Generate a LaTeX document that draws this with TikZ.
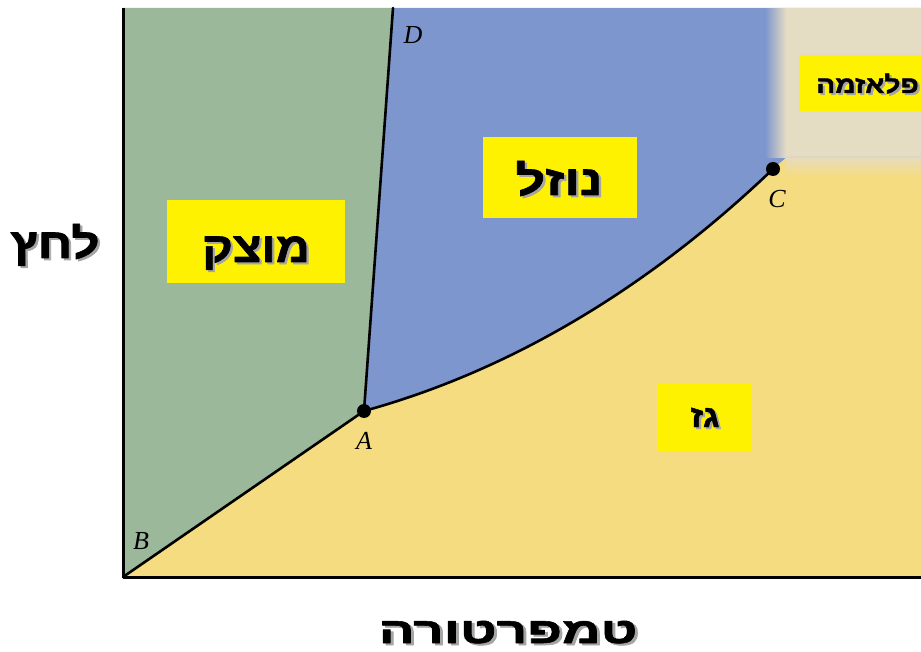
\documentclass[tikz,border=0pt]{standalone}
\usepackage{graphicx}
\usepackage{fontspec}
\setmainfont{Liberation Serif}
\newfontfamily\hebfont[Script=Hebrew, BoldFeatures={FakeBold=1.5}]{Liberation Sans}
\TeXXeTstate=1
\usetikzlibrary{fadings}
\definecolor{solidgreen}{RGB}{155,184,155}
\definecolor{liquidblue}{RGB}{126,150,206}
\definecolor{gasyellow}{RGB}{246,220,128}
\definecolor{plasmabeige}{RGB}{229,220,196}
\definecolor{shadowgray}{RGB}{165,165,165}
\tikzfading[name=fadeleft, left color=transparent!100, right color=transparent!0]
\tikzfading[name=fadedown, top color=transparent!0, bottom color=transparent!100]
% Hebrew word with a grey drop shadow, widened by #1
\newcommand\shadowed[2][1]{\scalebox{#1}[1]{\rlap{\hspace{2pt}\raisebox{-2pt}{\textcolor{shadowgray}{\beginR#2\endR}}}\beginR#2\endR}}
\begin{document}
\begin{tikzpicture}[x=1pt, y=-1pt, line join=round, line cap=round,
  phasebox/.style={fill=yellow, inner sep=0pt},
  phasename/.style={font=\hebfont\bfseries\fontsize{#1}{#1}\selectfont, inner sep=0pt, anchor=base},
  dot/.style={circle, fill=black, inner sep=0pt, minimum size=14pt},
  ptname/.style={font=\itshape\fontsize{26}{26}\selectfont, inner sep=0pt},
  curve/.style={line width=2.6pt}]
\def \xmin{123}
\def \xmax{921}
\def \ymin{577}
\def \ymax{8}
\useasboundingbox (0,0) rectangle (921,652);
\clip (0,0) rectangle (921,652);
\coordinate (A) at (364,411);
\coordinate (B) at (\xmin,\ymin);
\coordinate (C) at (773,169);
\coordinate (D) at (393,\ymax);
\coordinate (P1) at (520,368);
\coordinate (P2) at (657,280);
% phase regions
\fill[solidgreen] (\xmin,\ymax) -- (D) -- (A) -- (B) -- cycle;
\fill[liquidblue] (D) -- (\xmax,\ymax) -- (\xmax,158) -- (786,158) -- (C) .. controls (P2) and (P1) .. (A) -- cycle;
\fill[gasyellow] (B) -- (A) .. controls (P1) and (P2) .. (C) -- (786,158) -- (\xmax,158) -- (\xmax,\ymin) -- cycle;
\fill[plasmabeige] (786,\ymax) rectangle (\xmax,155);
\fill[plasmabeige, path fading=fadeleft] (765,\ymax) rectangle (786,158);
\fill[plasmabeige, path fading=fadedown] (786,155) rectangle (\xmax,177);
% boundaries
\draw[curve] (B) -- (A);
\draw[curve] (A) -- (D);
\draw[curve] (A) .. controls (P1) and (P2) .. (C);
\draw[line width=3pt, line cap=butt] (\xmin,\ymax) -- (B) -- (\xmax,\ymin);
\node[dot] (a) at (A) {};
\node[dot] (c) at (C) {};
\node[ptname] at (364,441) {A};
\node[ptname] at (141,541) {B};
\node[ptname] at (777,199) {C};
\node[ptname] at (413,35) {D};
% phase labels
\node[phasebox, minimum width=178pt, minimum height=83pt] (solid) at (256,241.5) {};
\node[phasename=42] at (256,262) {\shadowed[1.12]{מוצק}};
\node[phasebox, minimum width=154pt, minimum height=81pt] (liquid) at (560,177.5) {};
\node[phasename=42] at (559,195) {\shadowed[1.24]{נוזל}};
\node[phasebox, minimum width=94pt, minimum height=68pt] (gas) at (704,418) {};
\node[phasename=31] at (705,427) {\shadowed[1.1]{גז}};
\fill[yellow] (799,55) rectangle (940,111);
\node[phasename=24, anchor=base east] (plasma) at (919,93) {\shadowed[1.17]{פלאזמה}};
% axis names
\node[phasename=42] (pressure) at (55,258) {\shadowed[1.18]{לחץ}};
\node[phasename=36] (temperature) at (508,643) {\shadowed[1.48]{טמפרטורה}};
\end{tikzpicture}
\end{document}
